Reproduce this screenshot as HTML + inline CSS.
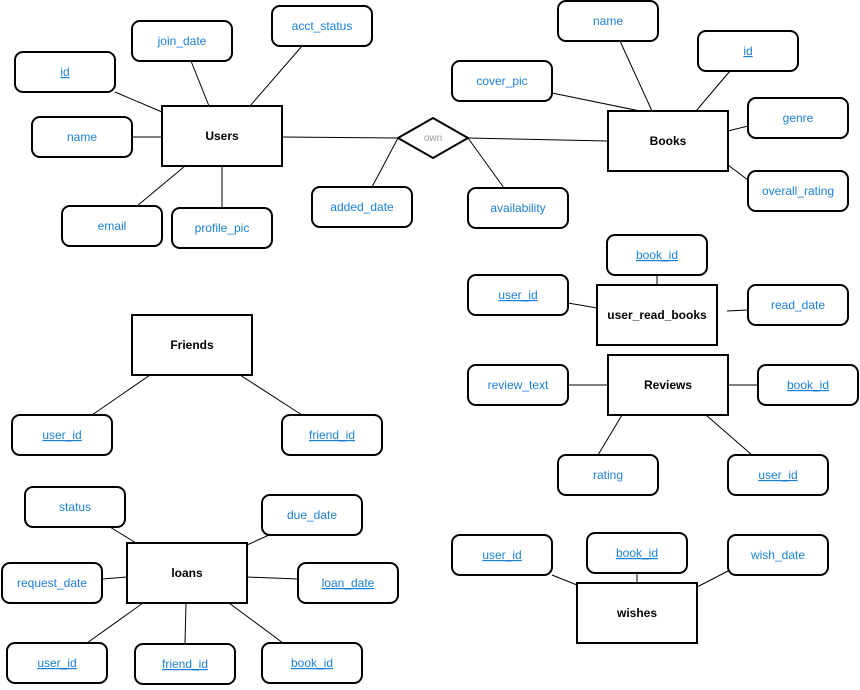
<!DOCTYPE html>
<html><head><meta charset="utf-8"><style>
html,body{margin:0;padding:0;background:#fff;}
svg{display:block;}
.a{fill:#fff;stroke:#000;stroke-width:2;}
.e{fill:#fff;stroke:#000;stroke-width:2;}
.t{font-family:"Liberation Sans",sans-serif;font-size:12px;fill:#1a7fd8;text-anchor:middle;}
.u{text-decoration:underline;}
.b{font-family:"Liberation Sans",sans-serif;font-size:12px;font-weight:bold;fill:#000;text-anchor:middle;}
line{stroke:#000;stroke-width:1;}
</style></head><body>
<svg width="860" height="690" viewBox="0 0 860 690" xmlns="http://www.w3.org/2000/svg">
<!-- lines -->
<g>
<line x1="115" y1="92" x2="162" y2="112"/>
<line x1="191" y1="61" x2="209" y2="106"/>
<line x1="302" y1="46" x2="250" y2="106"/>
<line x1="132" y1="137" x2="162" y2="137"/>
<line x1="137" y1="206" x2="185" y2="166"/>
<line x1="222" y1="166" x2="222" y2="208"/>
<line x1="282" y1="137" x2="398" y2="138"/>
<line x1="468" y1="138" x2="608" y2="141"/>
<line x1="398" y1="138" x2="372" y2="187"/>
<line x1="468" y1="138" x2="504" y2="188"/>
<line x1="620" y1="41" x2="652" y2="111"/>
<line x1="730" y1="71" x2="696" y2="111"/>
<line x1="552" y1="93" x2="640" y2="111"/>
<line x1="748" y1="126" x2="728" y2="131"/>
<line x1="748" y1="180" x2="728" y2="165"/>
<line x1="657" y1="275" x2="657" y2="285"/>
<line x1="568" y1="303" x2="597" y2="308"/>
<line x1="727" y1="311" x2="748" y2="310"/>
<line x1="568" y1="385" x2="608" y2="385"/>
<line x1="728" y1="385" x2="758" y2="385"/>
<line x1="622" y1="415" x2="598" y2="455"/>
<line x1="706" y1="415" x2="752" y2="455"/>
<line x1="150" y1="375" x2="92" y2="415"/>
<line x1="240" y1="375" x2="302" y2="415"/>
<line x1="110" y1="527" x2="136" y2="543"/>
<line x1="269" y1="535" x2="247" y2="545"/>
<line x1="102" y1="579" x2="127" y2="577"/>
<line x1="247" y1="577" x2="298" y2="579"/>
<line x1="87" y1="643" x2="143" y2="603"/>
<line x1="186" y1="603" x2="185" y2="643"/>
<line x1="229" y1="603" x2="283" y2="643"/>
<line x1="552" y1="575" x2="577" y2="585"/>
<line x1="637" y1="573" x2="637" y2="583"/>
<line x1="728" y1="571" x2="697" y2="587"/>
</g>
<!-- entities -->
<rect class="e" x="162" y="106" width="120" height="60"/><text class="b" x="222" y="140">Users</text>
<rect class="e" x="608" y="111" width="120" height="60"/><text class="b" x="668" y="145">Books</text>
<rect class="e" x="597" y="285" width="120" height="60"/><text class="b" x="657" y="319">user_read_books</text>
<rect class="e" x="608" y="355" width="120" height="60"/><text class="b" x="668" y="389">Reviews</text>
<rect class="e" x="132" y="315" width="120" height="60"/><text class="b" x="192" y="349">Friends</text>
<rect class="e" x="127" y="543" width="120" height="60"/><text class="b" x="187" y="577">loans</text>
<rect class="e" x="577" y="583" width="120" height="60"/><text class="b" x="637" y="617">wishes</text>
<polygon class="e" points="398,138 433,118 468,138 433,158"/>
<text x="433" y="141" style="font-family:'Liberation Sans',sans-serif;font-size:10px;fill:#999;text-anchor:middle">own</text>
<!-- attributes -->
<g>
<rect class="a" x="15" y="52" width="100" height="40" rx="8"/><text class="t u" x="65" y="76">id</text>
<rect class="a" x="132" y="21" width="100" height="40" rx="8"/><text class="t" x="182" y="45">join_date</text>
<rect class="a" x="272" y="6" width="100" height="40" rx="8"/><text class="t" x="322" y="30">acct_status</text>
<rect class="a" x="32" y="117" width="100" height="40" rx="8"/><text class="t" x="82" y="141">name</text>
<rect class="a" x="62" y="206" width="100" height="40" rx="8"/><text class="t" x="112" y="230">email</text>
<rect class="a" x="172" y="208" width="100" height="40" rx="8"/><text class="t" x="222" y="232">profile_pic</text>
<rect class="a" x="312" y="187" width="100" height="40" rx="8"/><text class="t" x="362" y="211">added_date</text>
<rect class="a" x="468" y="188" width="100" height="40" rx="8"/><text class="t" x="518" y="212">availability</text>
<rect class="a" x="558" y="1" width="100" height="40" rx="8"/><text class="t" x="608" y="25">name</text>
<rect class="a" x="698" y="31" width="100" height="40" rx="8"/><text class="t u" x="748" y="55">id</text>
<rect class="a" x="452" y="61" width="100" height="40" rx="8"/><text class="t" x="502" y="85">cover_pic</text>
<rect class="a" x="748" y="98" width="100" height="40" rx="8"/><text class="t" x="798" y="122">genre</text>
<rect class="a" x="748" y="171" width="100" height="40" rx="8"/><text class="t" x="798" y="195">overall_rating</text>
<rect class="a" x="607" y="235" width="100" height="40" rx="8"/><text class="t u" x="657" y="259">book_id</text>
<rect class="a" x="468" y="275" width="100" height="40" rx="8"/><text class="t u" x="518" y="299">user_id</text>
<rect class="a" x="748" y="285" width="100" height="40" rx="8"/><text class="t" x="798" y="309">read_date</text>
<rect class="a" x="468" y="365" width="100" height="40" rx="8"/><text class="t" x="518" y="389">review_text</text>
<rect class="a" x="758" y="365" width="100" height="40" rx="8"/><text class="t u" x="808" y="389">book_id</text>
<rect class="a" x="558" y="455" width="100" height="40" rx="8"/><text class="t" x="608" y="479">rating</text>
<rect class="a" x="728" y="455" width="100" height="40" rx="8"/><text class="t u" x="778" y="479">user_id</text>
<rect class="a" x="12" y="415" width="100" height="40" rx="8"/><text class="t u" x="62" y="439">user_id</text>
<rect class="a" x="282" y="415" width="100" height="40" rx="8"/><text class="t u" x="332" y="439">friend_id</text>
<rect class="a" x="25" y="487" width="100" height="40" rx="8"/><text class="t" x="75" y="511">status</text>
<rect class="a" x="262" y="495" width="100" height="40" rx="8"/><text class="t" x="312" y="519">due_date</text>
<rect class="a" x="2" y="563" width="100" height="40" rx="8"/><text class="t" x="52" y="587">request_date</text>
<rect class="a" x="298" y="563" width="100" height="40" rx="8"/><text class="t u" x="348" y="587">loan_date</text>
<rect class="a" x="7" y="643" width="100" height="40" rx="8"/><text class="t u" x="57" y="667">user_id</text>
<rect class="a" x="135" y="644" width="100" height="40" rx="8"/><text class="t u" x="185" y="668">friend_id</text>
<rect class="a" x="262" y="643" width="100" height="40" rx="8"/><text class="t u" x="312" y="667">book_id</text>
<rect class="a" x="452" y="535" width="100" height="40" rx="8"/><text class="t u" x="502" y="559">user_id</text>
<rect class="a" x="587" y="533" width="100" height="40" rx="8"/><text class="t u" x="637" y="557">book_id</text>
<rect class="a" x="728" y="535" width="100" height="40" rx="8"/><text class="t" x="778" y="559">wish_date</text>
</g>
</svg>
</body></html>
